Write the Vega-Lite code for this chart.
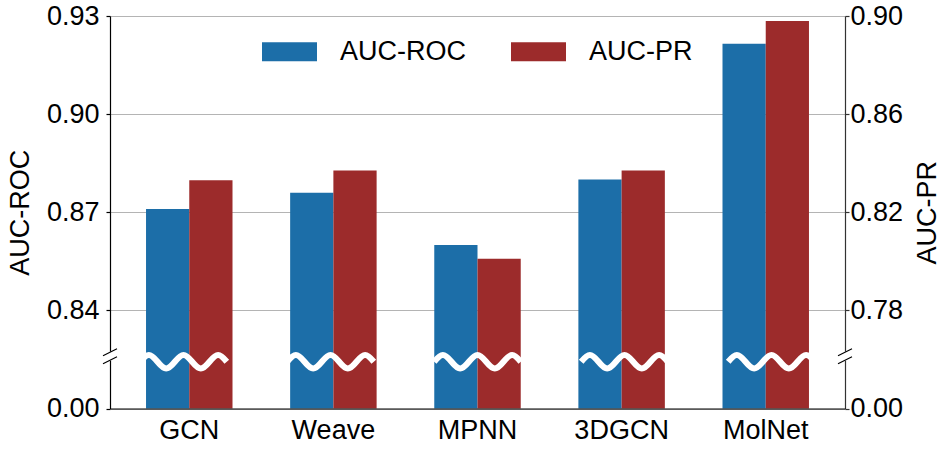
{
  "$schema": "https://vega.github.io/schema/vega-lite/v6.json",
  "width": 735,
  "height": 392.5,
  "autosize": {"type": "none"},
  "padding": {"left": 110, "top": 16, "right": 101, "bottom": 41.5},
  "data": {
    "values": [
      {"model": "GCN", "metric": "AUC-ROC", "value": 0.871},
      {"model": "GCN", "metric": "AUC-PR", "value": 0.833},
      {"model": "Weave", "metric": "AUC-ROC", "value": 0.876},
      {"model": "Weave", "metric": "AUC-PR", "value": 0.837},
      {"model": "MPNN", "metric": "AUC-ROC", "value": 0.860},
      {"model": "MPNN", "metric": "AUC-PR", "value": 0.801},
      {"model": "3DGCN", "metric": "AUC-ROC", "value": 0.880},
      {"model": "3DGCN", "metric": "AUC-PR", "value": 0.837},
      {"model": "MolNet", "metric": "AUC-ROC", "value": 0.9215},
      {"model": "MolNet", "metric": "AUC-PR", "value": 0.898}
    ]
  },
  "layer": [
    {
      "transform": [{"filter": "datum.metric === 'AUC-ROC'"}],
      "mark": {"type": "bar"},
      "encoding": {
        "x": {
          "field": "model",
          "type": "nominal",
          "sort": null,
          "scale": {"paddingInner": 0.4, "paddingOuter": 0.25},
          "axis": {
            "title": null,
            "labelAngle": 0,
            "labelFontSize": 27,
            "labelColor": "black",
            "labelPadding": 9,
            "ticks": false,
            "tickSize": 0,
            "domainColor": "black",
            "domainWidth": 1.2,
            "zindex": 1
          }
        },
        "xOffset": {
          "field": "metric",
          "type": "nominal",
          "scale": {"domain": ["AUC-ROC", "AUC-PR"], "paddingInner": 0, "paddingOuter": 0}
        },
        "y": {
          "field": "value",
          "type": "quantitative",
          "scale": {"domain": [0.81, 0.93], "zero": false, "nice": false},
          "axis": {
            "orient": "left",
            "values": [0.81, 0.84, 0.87, 0.9, 0.93],
            "labelExpr": "datum.value < 0.82 ? '0.00' : format(datum.value, '.2f')",
            "grid": true,
            "gridColor": "#b4b4b4",
            "gridWidth": 1,
            "domainColor": "black",
            "domainWidth": 1.2,
            "tickColor": "black",
            "tickSize": 4,
            "tickWidth": 1.2,
            "labelFontSize": 27,
            "labelColor": "black",
            "labelPadding": 7,
            "title": "AUC-ROC",
            "titleFontSize": 27,
            "titleFontWeight": "normal",
            "titleColor": "black",
            "titlePadding": 12
          }
        },
        "y2": {"datum": 0.81},
        "color": {
          "field": "metric",
          "type": "nominal",
          "scale": {"domain": ["AUC-ROC", "AUC-PR"], "range": ["#1c6ea8", "#9c2b2b"]}
        }
      }
    },
    {
      "transform": [{"filter": "datum.metric === 'AUC-PR'"}],
      "mark": {"type": "bar"},
      "encoding": {
        "x": {
          "field": "model",
          "type": "nominal",
          "sort": null,
          "scale": {"paddingInner": 0.4, "paddingOuter": 0.25},
          "axis": null
        },
        "xOffset": {
          "field": "metric",
          "type": "nominal",
          "scale": {"domain": ["AUC-ROC", "AUC-PR"], "paddingInner": 0, "paddingOuter": 0}
        },
        "y": {
          "field": "value",
          "type": "quantitative",
          "scale": {"domain": [0.74, 0.9], "zero": false, "nice": false},
          "axis": {
            "orient": "right",
            "values": [0.74, 0.78, 0.82, 0.86, 0.9],
            "labelExpr": "datum.value < 0.75 ? '0.00' : format(datum.value, '.2f')",
            "grid": false,
            "domainColor": "#333333",
            "domainWidth": 1.2,
            "tickColor": "#333333",
            "tickSize": 4,
            "tickWidth": 1.2,
            "labelFontSize": 27,
            "labelColor": "black",
            "labelPadding": 1,
            "title": "AUC-PR",
            "titleFontSize": 27,
            "titleFontWeight": "normal",
            "titleColor": "black",
            "titleAngle": -90,
            "titleBaseline": "top",
            "titlePadding": 12
          }
        },
        "y2": {"datum": 0.74},
        "color": {"field": "metric", "type": "nominal"}
      }
    },
    {
      "transform": [{"filter": "datum.metric === 'AUC-ROC'"}],
      "mark": {
        "type": "point",
        "shape": "M-1,0C-0.9348,-0.0794,-0.8724,-0.155,-0.8,-0.155C-0.7276,-0.155,-0.6652,-0.0794,-0.6,0C-0.5348,0.0794,-0.4724,0.155,-0.4,0.155C-0.3276,0.155,-0.2652,0.0794,-0.2,0C-0.1348,-0.0794,-0.0724,-0.155,0,-0.155C0.0724,-0.155,0.1348,-0.0794,0.2,0C0.2652,0.0794,0.3276,0.155,0.4,0.155C0.4724,0.155,0.5348,0.0794,0.6,0C0.6652,-0.0794,0.7276,-0.155,0.8,-0.155C0.8724,-0.155,0.9348,-0.0794,1,0",
        "size": 7500,
        "filled": false,
        "color": "white",
        "strokeWidth": 6,
        "opacity": 1
      },
      "encoding": {
        "x": {
          "field": "model",
          "type": "nominal",
          "sort": null,
          "scale": {"paddingInner": 0.4, "paddingOuter": 0.25},
          "axis": null
        },
        "y": {
          "datum": 0.8243,
          "type": "quantitative",
          "scale": {"domain": [0.81, 0.93], "zero": false, "nice": false},
          "axis": null
        }
      }
    },
    {
      "data": {"values": [{"spine": "left"}, {"spine": "right"}]},
      "mark": {
        "type": "point",
        "shape": "M0,-0.45L0,0.45",
        "size": 400,
        "filled": false,
        "color": "white",
        "strokeWidth": 4,
        "opacity": 1
      },
      "encoding": {
        "x": {
          "field": "spine",
          "type": "nominal",
          "scale": {"type": "point", "padding": 0, "domain": ["left", "right"]},
          "axis": null
        },
        "y": {
          "datum": 0.826,
          "type": "quantitative",
          "scale": {"domain": [0.81, 0.93], "zero": false, "nice": false},
          "axis": null
        }
      }
    },
    {
      "data": {"values": [{"spine": "left"}, {"spine": "right"}]},
      "mark": {
        "type": "point",
        "shape": "M-0.7,-0.05L0.7,-0.75M-0.7,0.75L0.7,0.05",
        "size": 400,
        "filled": false,
        "color": "black",
        "strokeWidth": 1.2,
        "opacity": 1
      },
      "encoding": {
        "x": {
          "field": "spine",
          "type": "nominal",
          "scale": {"type": "point", "padding": 0, "domain": ["left", "right"]},
          "axis": null
        },
        "y": {
          "datum": 0.826,
          "type": "quantitative",
          "scale": {"domain": [0.81, 0.93], "zero": false, "nice": false},
          "axis": null
        }
      }
    }
  ],
  "resolve": {"scale": {"x": "independent", "y": "independent"}},
  "config": {
    "font": "Liberation Sans",
    "view": {"stroke": null},
    "legend": {
      "orient": "none",
      "legendX": 152,
      "legendY": 8,
      "direction": "horizontal",
      "title": null,
      "padding": 0,
      "symbolType": "M-1,-0.345L1,-0.345L1,0.345L-1,0.345Z",
      "symbolSize": 3025,
      "symbolStrokeWidth": 0,
      "symbolOpacity": 1,
      "labelFontSize": 27,
      "labelColor": "black",
      "labelOffset": 23,
      "columnPadding": 45
    }
  }
}
